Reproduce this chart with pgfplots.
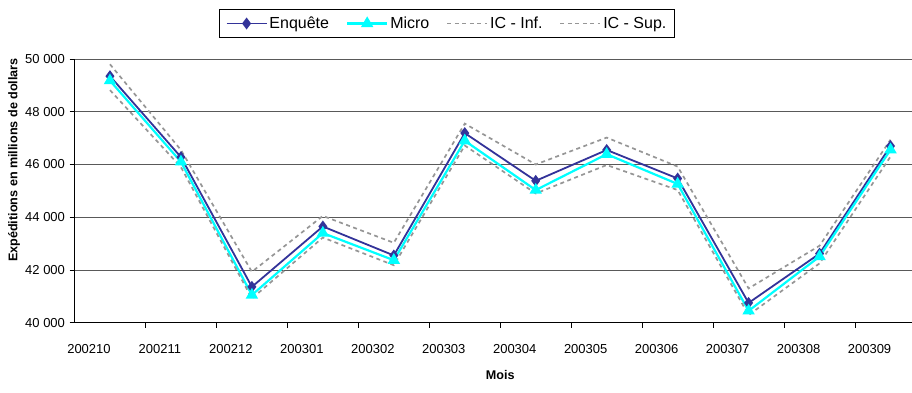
\documentclass[border=0pt]{standalone}
\usepackage{fontspec}
\setmainfont{Liberation Sans}
\usepackage{pgfplots}
\usepackage{pgfplotstable}
\pgfplotsset{compat=1.18}
\definecolor{enq}{HTML}{333399}
\definecolor{mic}{HTML}{00FFFF}
\definecolor{icg}{HTML}{969696}

\pgfplotstableread{
x enq micro inf sup
0 49350 49180 48820 49800
1 46280 46100 45900 46550
2 41360 41050 40920 41930
3 43650 43400 43230 44050
4 42550 42370 42180 43030
5 47190 46900 46720 47550
6 45380 45030 44900 46000
7 46550 46390 45980 47020
8 45470 45260 45030 45920
9 40750 40450 40290 41300
10 42620 42510 42250 42920
11 46700 46560 46300 46940
}\datatable

\begin{document}
\begin{tikzpicture}[x=1pt,y=1pt]
\begin{axis}[
  at={(74.5pt,69.3pt)}, anchor=south west,
  scale only axis, width=851.5pt, height=263.7pt,
  xmin=-0.5, xmax=11.5, ymin=40000, ymax=50000,
  ytick={40000,42000,...,50000},
  scaled y ticks=false,
  /pgf/number format/.cd, 1000 sep={\ }, assume math mode=true, /pgfplots/.cd,
  ymajorgrids, major grid style={black!65, line width=0.9pt},
  axis x line*=bottom, axis y line*=left,
  axis line style={black, line width=0.9pt},
  xtick={0,...,11},
  xticklabels={200210,200211,200212,200301,200302,200303,200304,200305,200306,200307,200308,200309},
  minor xtick={0.5,1.5,...,10.5},
  major x tick style={draw=none},
  minor x tick style={black, line width=0.9pt},
  tick align=outside, major tick length=5pt, minor tick length=5pt,
  y tick style={black, line width=0.9pt},
  xticklabel style={font=\fontsize{13}{13}\selectfont, anchor=center, xshift=-21pt, yshift=-21pt},
  yticklabel style={font=\fontsize{13}{13}\selectfont, anchor=east, xshift=-1pt},
  xlabel={Mois},
  xlabel style={font=\bfseries\fontsize{12.6}{13}\selectfont, at={(axis description cs:0.5,-0.198)}, anchor=center},
  ylabel={Expéditions en millions de dollars},
  ylabel style={font=\bfseries\fontsize{12.6}{13}\selectfont, at={(axis description cs:-0.071,0.617)}, anchor=center},
  legend columns=4,
  legend image code/.code={\draw[mark repeat=2,mark phase=2,#1] plot coordinates {(0pt,0pt) (20pt,0pt) (40pt,0pt)};},
  legend style={at={(0.4375,1.1346)}, anchor=center, draw=black, line width=0.9pt,
    font=\fontsize{16}{16}\selectfont, inner xsep=6pt, inner ysep=5pt,
    /tikz/every even column/.append style={column sep=15pt}},
]
\addplot[enq, line width=1.8pt, mark=diamond*, mark size=4.5pt, mark options={solid}] table[x=x, y=enq] {\datatable};
\addlegendentry{Enquête}
\addplot[mic, line width=2.2pt, mark=triangle*, mark size=5pt, mark options={solid}] table[x=x, y=micro] {\datatable};
\addlegendentry{Micro}
\addplot[icg, line width=1.7pt, dash pattern=on 4pt off 3.5pt] table[x=x, y=inf] {\datatable};
\addlegendentry{IC - Inf.}
\addplot[icg, line width=1.7pt, dash pattern=on 4pt off 3.5pt] table[x=x, y=sup] {\datatable};
\addlegendentry{IC - Sup.}
\end{axis}
\pgfresetboundingbox
\path (0pt,0pt) rectangle (912pt,392pt);
\end{tikzpicture}
\end{document}
